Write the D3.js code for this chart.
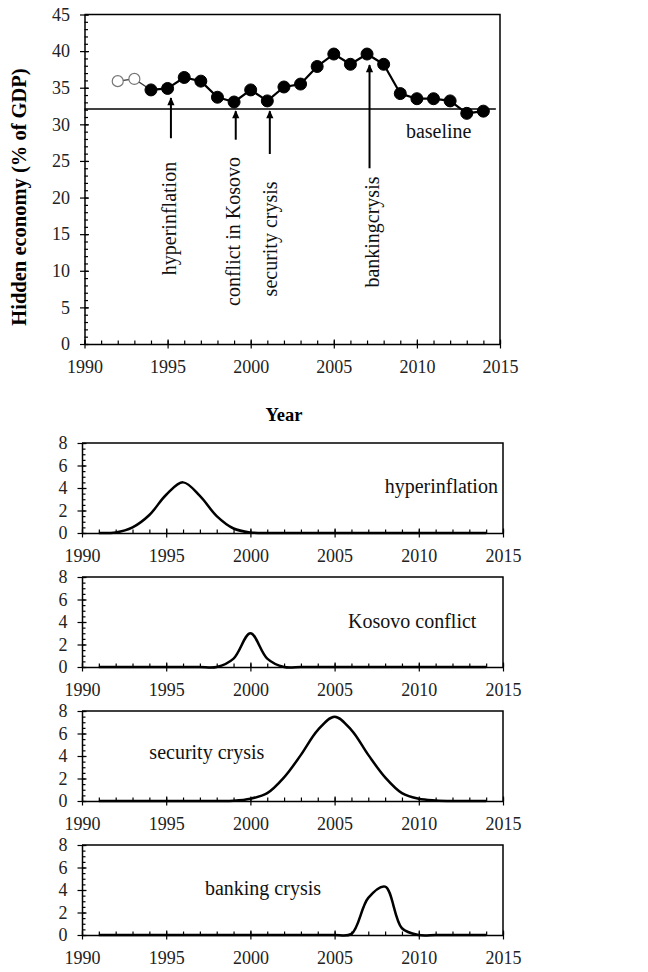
<!DOCTYPE html>
<html>
<head>
<meta charset="utf-8">
<script src="https://cdn.jsdelivr.net/npm/d3@7"></script>
<style>
  body { margin: 0; background: #fff; }
</style>
</head>
<body>
<div id="d1"></div>
<script>
// hidden economy estimates (% of GDP)
const hiddenYears = [1992, 1993, 1994, 1995, 1996, 1997, 1998, 1999, 2000, 2001, 2002, 2003,
                     2004, 2005, 2006, 2007, 2008, 2009, 2010, 2011, 2012, 2013, 2014];
const hiddenValues = [35.9, 36.2, 34.7, 34.9, 36.4, 35.9, 33.7, 33.05, 34.7, 33.2, 35.1, 35.5,
                      37.9, 39.6, 38.2, 39.6, 38.2, 34.2, 33.5, 33.5, 33.2, 31.5, 31.8];
const openYears = [1992, 1993];          // drawn as hollow circles
const baselineValue = 32.1;

// events marked with arrows in the top chart
const eventNames = ["hyperinflation", "conflict in Kosovo", "security crysis", "bankingcrysis"];
const eventYears = [1995.2, 1999.1, 2001.15, 2007.15];
const eventTipValues = [33.6, 31.8, 31.8, 38.1];
const eventTailValues = [28.1, 27.9, 25.95, 24.0];

// shock profiles (lower panels)
const shockYears = [1991, 1992, 1993, 1994, 1995, 1996, 1997, 1998, 1999, 2000, 2001, 2002,
                    2003, 2004, 2005, 2006, 2007, 2008, 2009, 2010, 2011, 2012, 2013, 2014];
const hyperinflation = [0, 0.05, 0.5, 1.6, 3.4, 4.5, 3.3, 1.5, 0.4, 0.05, 0, 0,
                        0, 0, 0, 0, 0, 0, 0, 0, 0, 0, 0, 0];
const kosovo = [0, 0, 0, 0, 0, 0, 0, 0, 0.75, 3.0, 0.75, 0,
                0, 0, 0, 0, 0, 0, 0, 0, 0, 0, 0, 0];
const security = [0, 0, 0, 0, 0, 0, 0, 0, 0.02, 0.2, 0.7, 2.1,
                  4.1, 6.3, 7.5, 6.3, 4.1, 2.1, 0.7, 0.2, 0.05, 0, 0, 0];
const banking = [0, 0, 0, 0, 0, 0, 0, 0, 0, 0, 0, 0,
                 0, 0, 0, 0.1, 3.3, 4.3, 0.6, 0, 0, 0, 0, 0];
const panelNames = ["hyperinflation", "Kosovo conflict", "security crysis", "banking crysis"];
const panelSeries = [hyperinflation, kosovo, security, banking];

const xTicks = [1990, 1995, 2000, 2005, 2010, 2015];
const xMinor = d3.range(1990, 2016, 1);
const topYTicks = [0, 5, 10, 15, 20, 25, 30, 35, 40, 45];
const panelYTicks = [0, 2, 4, 6, 8];

const width = 648, height = 972;
const font = "'Liberation Serif', 'Times New Roman', serif";

const svg = d3.select("#d1").append("svg")
    .attr("width", width)
    .attr("height", height)
    .attr("font-family", font);

svg.append("defs").append("marker")
    .attr("id", "arrow")
    .attr("markerUnits", "userSpaceOnUse")
    .attr("viewBox", "0 -5 10 10")
    .attr("refX", 9)
    .attr("refY", 0)
    .attr("markerWidth", 10)
    .attr("markerHeight", 8)
    .attr("orient", "auto")
    .append("path")
    .attr("d", "M0,-4.5L10,0L0,4.5Z")
    .attr("fill", "#000");

// axes with minor ticks inside and crossing major ticks
function axes(g, x, y, yMajor, yMinor) {
    const [x0, x1] = x.range();
    const [yb, yt] = y.range();

    g.append("path")
        .attr("d", `M${x0},${yt}H${x1}V${yb}`)
        .attr("fill", "none")
        .attr("stroke", "#000")
        .attr("stroke-width", 1.5);

    g.append("g")
        .attr("transform", `translate(${x0},0)`)
        .call(d3.axisRight(y).tickValues(yMinor).tickSize(3.5).tickFormat(""))
        .call(g => g.select(".domain").remove())
        .call(g => g.selectAll(".tick line").attr("stroke-width", 1.2));

    g.append("g")
        .attr("transform", `translate(${x0},0)`)
        .call(d3.axisLeft(y).tickValues(yMajor).tickSizeInner(4.5).tickSizeOuter(0).tickPadding(10))
        .attr("font-family", font)
        .attr("font-size", 18)
        .call(g => g.select(".domain").attr("stroke-width", 1.5))
        .call(g => g.selectAll(".tick line").attr("x1", 4.5).attr("stroke-width", 1.2))
        .call(g => g.selectAll(".tick text").attr("fill", "#222"));

    g.append("g")
        .attr("transform", `translate(0,${yb})`)
        .call(d3.axisTop(x).tickValues(xMinor).tickSize(3.5).tickFormat(""))
        .call(g => g.select(".domain").remove())
        .call(g => g.selectAll(".tick line").attr("stroke-width", 1.2));

    g.append("g")
        .attr("transform", `translate(0,${yb})`)
        .call(d3.axisBottom(x).tickValues(xTicks).tickSizeInner(4.5).tickSizeOuter(0).tickFormat(d3.format("d")))
        .attr("font-family", font)
        .attr("font-size", 18)
        .call(g => g.select(".domain").attr("stroke-width", 1.5))
        .call(g => g.selectAll(".tick line").attr("y1", -4.5).attr("stroke-width", 1.2))
        .call(g => g.selectAll(".tick text").attr("dy", null).attr("y", 28.5).attr("fill", "#222"));
}

// ---- top chart ----
const x = d3.scaleLinear().domain([1990, 2015]).range([84.5, 500]);
const y = d3.scaleLinear().domain([0, 45]).range([344, 14.5]);

const main = svg.append("g");
axes(main, x, y, topYTicks, d3.range(0, 46, 1));

const points = hiddenYears.map((yr, i) => ({ year: yr, value: hiddenValues[i], open: openYears.includes(yr) }));
const line = d3.line().x(d => x(d.year)).y(d => y(d.value));

// baseline
main.append("line")
    .attr("x1", x(1990)).attr("x2", x(2014.75))
    .attr("y1", y(baselineValue)).attr("y2", y(baselineValue))
    .attr("stroke", "#000")
    .attr("stroke-width", 1.5);

main.append("path")
    .datum(points.filter(d => d.open || d.year === 1994))
    .attr("fill", "none")
    .attr("stroke", "#333")
    .attr("stroke-width", 1.2)
    .attr("d", line);

main.append("path")
    .datum(points.filter(d => !d.open))
    .attr("fill", "none")
    .attr("stroke", "#000")
    .attr("stroke-width", 2.2)
    .attr("stroke-linejoin", "round")
    .attr("d", line);

main.append("g")
    .selectAll("circle")
    .data(points)
    .join("circle")
    .attr("cx", d => x(d.year))
    .attr("cy", d => y(d.value))
    .attr("r", d => d.open ? 5.5 : 6)
    .attr("fill", d => d.open ? "#fff" : "#000")
    .attr("stroke", d => d.open ? "#777" : "#000")
    .attr("stroke-width", d => d.open ? 1.2 : 1);

// arrows
main.append("g")
    .selectAll("line")
    .data(eventYears)
    .join("line")
    .attr("x1", d => x(d)).attr("x2", d => x(d))
    .attr("y1", (d, i) => y(eventTailValues[i]))
    .attr("y2", (d, i) => y(eventTipValues[i]))
    .attr("stroke", "#000")
    .attr("stroke-width", 2)
    .attr("marker-end", "url(#arrow)");

// rotated event labels (start of text at the bottom)
const labelAt = [[1995.5, 9.4], [1999.37, 5.2], [2001.6, 6.5], [2007.72, 7.7]];
main.append("g")
    .attr("font-size", 20)
    .attr("fill", "#111")
    .selectAll("text")
    .data(eventNames)
    .join("text")
    .attr("transform", (d, i) => `translate(${x(labelAt[i][0])},${y(labelAt[i][1])}) rotate(-90)`)
    .text(d => d);

main.append("text")
    .attr("x", x(2009.34))
    .attr("y", y(28.1))
    .attr("font-size", 20)
    .attr("fill", "#111")
    .text("baseline");

svg.append("text")
    .attr("transform", "translate(26,197) rotate(-90)")
    .attr("text-anchor", "middle")
    .attr("font-size", 20.5)
    .attr("font-weight", "bold")
    .text("Hidden economy (% of GDP)");

svg.append("text")
    .attr("x", 284)
    .attr("y", 421)
    .attr("text-anchor", "middle")
    .attr("font-size", 18.5)
    .attr("font-weight", "bold")
    .text("Year");

// ---- shock panels ----
const panelTops = [443, 577, 711, 845];
const panelH = 90;
const px = d3.scaleLinear().domain([1990, 2015]).range([82, 503]);
const labelLayout = [
    { year: 2014.7, value: 3.55, anchor: "end" },
    { year: 2005.8, value: 3.45, anchor: "start" },
    { year: 1994.0, value: 3.7, anchor: "start" },
    { year: 1997.3, value: 3.6, anchor: "start" }
];

const curve = d3.line()
    .curve(d3.curveCatmullRom)
    .x(d => px(d[0]))
    .y(d => d[2](d[1]));

panelSeries.forEach((series, k) => {
    const py = d3.scaleLinear().domain([0, 8]).range([panelTops[k] + panelH, panelTops[k]]);
    const g = svg.append("g");
    axes(g, px, py, panelYTicks, d3.range(0, 8.01, 0.5));

    g.append("path")
        .datum(shockYears.map((yr, i) => [yr, series[i], py]))
        .attr("fill", "none")
        .attr("stroke", "#000")
        .attr("stroke-width", 2.5)
        .attr("stroke-linejoin", "round")
        .attr("d", curve);

    g.append("text")
        .attr("x", px(labelLayout[k].year))
        .attr("y", py(labelLayout[k].value))
        .attr("text-anchor", labelLayout[k].anchor)
        .attr("font-size", 20)
        .attr("fill", "#111")
        .text(panelNames[k]);
});
</script>
</body>
</html>
